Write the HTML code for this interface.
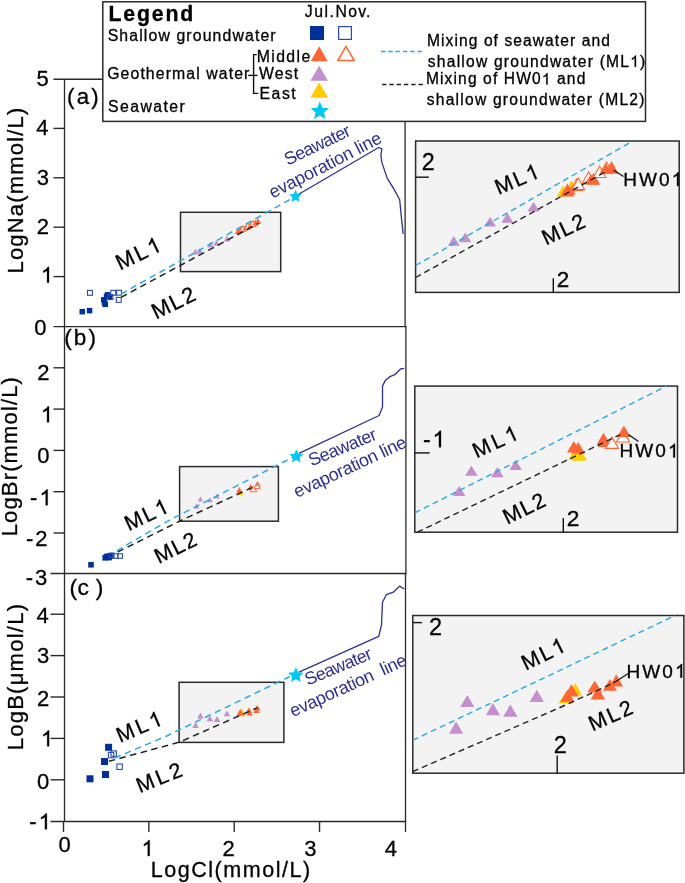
<!DOCTYPE html>
<html><head><meta charset="utf-8"><title>Figure</title>
<style>
html,body{margin:0;padding:0;background:#fff;}
body{width:685px;height:883px;overflow:hidden;}
svg{display:block;will-change:transform;}
text{font-family:"Liberation Sans", sans-serif;stroke-width:0.3px;}
</style></head>
<body>
<svg width="685" height="883" viewBox="0 0 685 883">
<rect x="0" y="0" width="685" height="883" fill="#fff"/>
<line x1="64.5" y1="79" x2="64.5" y2="821.5" stroke="#2a2a2a" stroke-width="1.3"/>
<line x1="405.1" y1="121" x2="405.1" y2="326.6" stroke="#2a2a2a" stroke-width="1.3"/>
<line x1="405.9" y1="326.6" x2="405.9" y2="573.5" stroke="#2a2a2a" stroke-width="1.3"/>
<line x1="405.5" y1="573.5" x2="405.5" y2="832" stroke="#2a2a2a" stroke-width="1.3"/>
<line x1="53.5" y1="79.2" x2="103" y2="79.2" stroke="#2a2a2a" stroke-width="1.4"/>
<line x1="53.5" y1="326.6" x2="406.5" y2="326.6" stroke="#2a2a2a" stroke-width="1.4"/>
<line x1="50.5" y1="573.5" x2="406.5" y2="573.5" stroke="#2a2a2a" stroke-width="1.4"/>
<line x1="50.5" y1="821.5" x2="406.2" y2="821.5" stroke="#2a2a2a" stroke-width="1.4"/>
<line x1="53.5" y1="276.6" x2="64" y2="276.6" stroke="#2a2a2a" stroke-width="1.4"/>
<line x1="53.5" y1="227.2" x2="64" y2="227.2" stroke="#2a2a2a" stroke-width="1.4"/>
<line x1="53.5" y1="177.8" x2="64" y2="177.8" stroke="#2a2a2a" stroke-width="1.4"/>
<line x1="53.5" y1="128.4" x2="64" y2="128.4" stroke="#2a2a2a" stroke-width="1.4"/>
<line x1="53.5" y1="367.79999999999995" x2="64" y2="367.79999999999995" stroke="#2a2a2a" stroke-width="1.4"/>
<line x1="53.5" y1="409.09999999999997" x2="64" y2="409.09999999999997" stroke="#2a2a2a" stroke-width="1.4"/>
<line x1="53.5" y1="450.4" x2="64" y2="450.4" stroke="#2a2a2a" stroke-width="1.4"/>
<line x1="53.5" y1="491.7" x2="64" y2="491.7" stroke="#2a2a2a" stroke-width="1.4"/>
<line x1="53.5" y1="533.0" x2="64" y2="533.0" stroke="#2a2a2a" stroke-width="1.4"/>
<line x1="50.5" y1="614.1999999999999" x2="64" y2="614.1999999999999" stroke="#2a2a2a" stroke-width="1.4"/>
<line x1="50.5" y1="655.5999999999999" x2="64" y2="655.5999999999999" stroke="#2a2a2a" stroke-width="1.4"/>
<line x1="50.5" y1="697.0" x2="64" y2="697.0" stroke="#2a2a2a" stroke-width="1.4"/>
<line x1="50.5" y1="738.4" x2="64" y2="738.4" stroke="#2a2a2a" stroke-width="1.4"/>
<line x1="50.5" y1="779.8" x2="64" y2="779.8" stroke="#2a2a2a" stroke-width="1.4"/>
<text x="36.43" y="86.1" font-size="22" stroke="#000">5</text>
<text x="36.29" y="135.4" font-size="22" stroke="#000">4</text>
<text x="36.82" y="185.3" font-size="22" stroke="#000">3</text>
<text x="36.76" y="234.1" font-size="22" stroke="#000">2</text>
<text id="one1" x="40.8" y="282.7" font-size="22" stroke="#000"><tspan visibility="hidden">1</tspan></text>
<text x="34.18" y="335.0" font-size="22" stroke="#000">0</text>
<text x="37.31" y="380.2" font-size="22" stroke="#000">2</text>
<text id="one2" x="40.8" y="422.3" font-size="22" stroke="#000"><tspan visibility="hidden">1</tspan></text>
<text x="37.23" y="463.4" font-size="22" stroke="#000">0</text>
<text id="one3" x="29.93" y="505.2" font-size="22" stroke="#000" textLength="21.79" lengthAdjust="spacing">-<tspan visibility="hidden">1</tspan></text>
<text x="26.03" y="545.5" font-size="22" stroke="#000" textLength="21.59" lengthAdjust="spacing">-2</text>
<text x="25.63" y="584.9" font-size="22" stroke="#000" textLength="21.56" lengthAdjust="spacing">-3</text>
<text x="36.44" y="622.6" font-size="22" stroke="#000">4</text>
<text x="36.97" y="663.4" font-size="22" stroke="#000">3</text>
<text x="36.91" y="705.6" font-size="22" stroke="#000">2</text>
<text id="one4" x="40.9" y="746.3" font-size="22" stroke="#000"><tspan visibility="hidden">1</tspan></text>
<text x="36.93" y="789.3" font-size="22" stroke="#000">0</text>
<text id="one5" x="29.33" y="829.2" font-size="22" stroke="#000" textLength="21.59" lengthAdjust="spacing">-<tspan visibility="hidden">1</tspan></text>
<text x="58.43" y="851.5" font-size="22" stroke="#000">0</text>
<text id="one6" x="141.5" y="856.0" font-size="22" stroke="#000"><tspan visibility="hidden">1</tspan></text>
<text x="222.46" y="856.1" font-size="22" stroke="#000">2</text>
<text x="304.17" y="855.7" font-size="22" stroke="#000">3</text>
<text x="384.64" y="855.7" font-size="22" stroke="#000">4</text>
<line x1="63.5" y1="821.5" x2="63.5" y2="832" stroke="#2a2a2a" stroke-width="1.4"/>
<line x1="148.85" y1="821.5" x2="148.85" y2="832" stroke="#2a2a2a" stroke-width="1.4"/>
<line x1="234.2" y1="821.5" x2="234.2" y2="832" stroke="#2a2a2a" stroke-width="1.4"/>
<line x1="319.54999999999995" y1="821.5" x2="319.54999999999995" y2="832" stroke="#2a2a2a" stroke-width="1.4"/>
<text x="150.64" y="876.8" font-size="21.5" stroke="#000" textLength="159.56" lengthAdjust="spacing">LogCl(mmol/L)</text>
<text x="0" y="0" font-size="22" textLength="165.74" lengthAdjust="spacing" fill="#000" stroke="#000" transform="translate(22.5 273.50) rotate(-90)">LogNa(mmol/L)</text>
<text x="0" y="0" font-size="22" textLength="159.23" lengthAdjust="spacing" fill="#000" stroke="#000" transform="translate(16.8 536.30) rotate(-90)">LogBr(mmol/L)</text>
<text x="0" y="0" font-size="22" textLength="146.33" lengthAdjust="spacing" fill="#000" stroke="#000" transform="translate(23 750.30) rotate(-90)">LogB(μmol/L)</text>
<text x="67.12" y="104.1" font-size="22.3" stroke="#000" textLength="31.51" lengthAdjust="spacing">(a)</text>
<text x="64.31" y="345.3" font-size="22.5" stroke="#000" textLength="31.64" lengthAdjust="spacing">(b)</text>
<text x="69.49" y="595.1" font-size="22.8" stroke="#000" textLength="33.91" lengthAdjust="spacing">(c )</text>
<rect x="102.8" y="1.8" width="542.7" height="119.6" fill="#fff" stroke="#2a2a2a" stroke-width="1.5"/>
<text x="108.49" y="20.8" font-size="21.3" font-weight="bold" stroke="#000" textLength="84.89" lengthAdjust="spacing">Legend</text>
<text x="107.67" y="41.0" font-size="15.8" stroke="#000" textLength="167.93" lengthAdjust="spacing">Shallow groundwater</text>
<text x="107.21" y="79.3" font-size="15.8" stroke="#000" textLength="142.1" lengthAdjust="spacing">Geothermal water</text>
<text x="108.07" y="112.2" font-size="15.8" stroke="#000" textLength="76.62" lengthAdjust="spacing">Seawater</text>
<text x="304.85" y="17.3" font-size="15.8" stroke="#000" textLength="29.04" lengthAdjust="spacing">Jul.</text>
<text x="335.5" y="17.3" font-size="15.8" stroke="#000" textLength="34.98" lengthAdjust="spacing">Nov.</text>
<text x="256.7" y="61.6" font-size="15.8" stroke="#000" textLength="53.52" lengthAdjust="spacing">Middle</text>
<text x="258.94" y="79.4" font-size="15.8" stroke="#000" textLength="39.32" lengthAdjust="spacing">West</text>
<text x="259.6" y="98.5" font-size="15.8" stroke="#000" textLength="36.04" lengthAdjust="spacing">East</text>
<polyline points="256.8,54.6 253.6,54.6 253.6,93.4 258.3,93.4" fill="none" stroke="#111" stroke-width="1.4"/>
<line x1="248.1" y1="75.4" x2="257.6" y2="75.4" stroke="#111" stroke-width="1.4"/>
<rect x="310.0" y="26.0" width="14.0" height="14.0" fill="#00309a"/>
<rect x="338.6" y="26.6" width="12.8" height="12.8" fill="none" stroke="#284bb0" stroke-width="1.2"/>
<polygon points="319.2,46.2 310.7,61.2 327.7,61.2" fill="#ff6633"/>
<polygon points="346.0,46.4 337.8,60.6 354.2,60.6" fill="none" stroke="#ff6633" stroke-width="1.5"/>
<polygon points="319.2,65.8 310.4,80.8 327.9,80.8" fill="#c48fcc"/>
<polygon points="319.2,82.6 310.2,97.8 328.2,97.8" fill="#ffcc00"/>
<polygon points="319.80,101.60 322.40,107.63 328.93,108.23 324.00,112.56 325.44,118.97 319.80,115.62 314.16,118.97 315.60,112.56 310.67,108.23 317.20,107.63" fill="#00c8f5"/>
<line x1="381" y1="51.6" x2="424" y2="51.6" stroke="#26a9e6" stroke-width="1.5" stroke-dasharray="4.4 2.9"/>
<line x1="382" y1="84.6" x2="425.5" y2="84.6" stroke="#222" stroke-width="1.5" stroke-dasharray="4.4 2.9"/>
<text x="427.02" y="45.6" font-size="15.6" stroke="#000" textLength="182.8" lengthAdjust="spacing">Mixing of seawater and</text>
<text id="one7" x="427.86" y="66.8" font-size="15.6" stroke="#000" textLength="217.45" lengthAdjust="spacing">shallow groundwater (ML<tspan visibility="hidden">1</tspan>)</text>
<text id="one8" x="425.92" y="84.4" font-size="15.6" stroke="#000" textLength="159.41" lengthAdjust="spacing">Mixing of HW0<tspan visibility="hidden">1</tspan> and</text>
<text x="426.76" y="105.3" font-size="15.6" stroke="#000" textLength="217.65" lengthAdjust="spacing">shallow groundwater (ML2)</text>
<rect x="180.5" y="212.3" width="100.19999999999999" height="59.30000000000001" fill="#f3f3f3" stroke="#2a2a2a" stroke-width="1.5"/>
<polyline points="297.0,195.2 378.7,147.5 381.8,148.9 380.9,154.9 381.8,162.4 387.4,178.6 393.7,188.6 399.7,199.8 401.1,214.8 403.2,234.0" fill="none" stroke="#2e3192" stroke-width="1.3" stroke-linejoin="round"/>
<rect x="79.5" y="308.9" width="5.5" height="5.5" fill="#00309a"/>
<rect x="86.8" y="307.9" width="5.5" height="5.5" fill="#00309a"/>
<rect x="101.8" y="300.1" width="5.5" height="5.5" fill="#00309a"/>
<rect x="101.0" y="297.1" width="5.5" height="5.5" fill="#00309a"/>
<rect x="104.7" y="292.1" width="5.5" height="5.5" fill="#00309a"/>
<rect x="106.8" y="294.2" width="5.5" height="5.5" fill="#00309a"/>
<rect x="102.5" y="301.6" width="5.5" height="5.5" fill="#00309a"/>
<rect x="103.8" y="293.8" width="5.5" height="5.5" fill="#00309a"/>
<rect x="87.5" y="290.4" width="4.9" height="4.9" fill="none" stroke="#284bb0" stroke-width="1.1"/>
<rect x="110.8" y="290.4" width="4.9" height="4.9" fill="none" stroke="#284bb0" stroke-width="1.1"/>
<rect x="116.6" y="290.2" width="4.9" height="4.9" fill="none" stroke="#284bb0" stroke-width="1.1"/>
<rect x="116.3" y="297.4" width="4.9" height="4.9" fill="none" stroke="#284bb0" stroke-width="1.1"/>
<rect x="108.0" y="294.6" width="4.9" height="4.9" fill="none" stroke="#284bb0" stroke-width="1.1"/>
<polygon points="195.4,248.8 192.2,254.6 198.7,254.6" fill="#c48fcc"/>
<polygon points="199.8,247.9 196.6,253.7 203.1,253.7" fill="#c48fcc"/>
<polygon points="210.3,241.8 207.1,247.6 213.6,247.6" fill="#c48fcc"/>
<polygon points="216.4,240.0 213.2,245.8 219.7,245.8" fill="#c48fcc"/>
<polygon points="226.9,235.6 223.7,241.4 230.2,241.4" fill="#c48fcc"/>
<polygon points="240.0,226.5 236.8,232.3 243.2,232.3" fill="#ffcc00"/>
<polygon points="238.0,228.1 234.8,233.9 241.2,233.9" fill="#ff6633"/>
<polygon points="240.5,227.1 237.2,232.9 243.8,232.9" fill="#ff6633"/>
<polygon points="243.0,225.6 239.8,231.4 246.2,231.4" fill="#fff" stroke="#ff6633" stroke-width="1.0"/>
<polygon points="245.5,224.6 242.2,230.4 248.8,230.4" fill="#ff6633"/>
<polygon points="248.0,223.1 244.8,228.9 251.2,228.9" fill="#fff" stroke="#ff6633" stroke-width="1.0"/>
<polygon points="250.5,222.1 247.2,227.9 253.8,227.9" fill="#ff6633"/>
<polygon points="253.0,220.6 249.8,226.4 256.2,226.4" fill="#fff" stroke="#ff6633" stroke-width="1.0"/>
<polygon points="255.5,219.6 252.2,225.4 258.8,225.4" fill="#ff6633"/>
<polygon points="258.0,218.1 254.8,223.9 261.2,223.9" fill="#ff6633"/>
<path d="M121,294 L295.5,196.4" fill="none" stroke="#26a9e6" stroke-width="1.5" stroke-dasharray="6.5 4.5"/>
<path d="M121,297.3 L258.5,223.4" fill="none" stroke="#222" stroke-width="1.5" stroke-dasharray="6.5 4.5"/>
<polygon points="295.50,189.70 297.34,193.97 301.97,194.40 298.47,197.47 299.50,202.00 295.50,199.63 291.50,202.00 292.53,197.47 289.03,194.40 293.66,193.97" fill="#00c8f5"/>
<text id="one9" x="0" y="0" font-size="22" textLength="47.33" lengthAdjust="spacing" fill="#000" stroke="#000" transform="translate(119.97 270.58) rotate(-25.5)">ML<tspan visibility="hidden">1</tspan></text>
<text x="0" y="0" font-size="22" textLength="45.93" lengthAdjust="spacing" fill="#000" stroke="#000" transform="translate(155.88 319.59) rotate(-26)">ML2</text>
<text x="0" y="0" font-size="18" textLength="71.16" lengthAdjust="spacing" fill="#2e3192" transform="translate(287.75 165.66) rotate(-25.5)">Seawater</text>
<text x="0" y="0" font-size="18" textLength="124.09" lengthAdjust="spacing" fill="#2e3192" transform="translate(272.83 198.85) rotate(-27.3)">evaporation line</text>
<rect x="415.6" y="141" width="263.6" height="151.39999999999998" fill="#f3f3f3" stroke="#2a2a2a" stroke-width="1.5"/>
<line x1="415.6" y1="177.2" x2="428.9" y2="177.2" stroke="#111" stroke-width="1.4"/>
<line x1="553.3" y1="292.4" x2="553.3" y2="278.3" stroke="#111" stroke-width="1.4"/>
<text x="421.64" y="169.8" font-size="23.3" stroke="#000">2</text>
<text x="556.78" y="286.6" font-size="22.5" stroke="#000">2</text>
<polygon points="453.8,236.1 447.8,245.8 459.8,245.8" fill="#c48fcc"/>
<polygon points="465.3,232.6 459.3,242.3 471.3,242.3" fill="#c48fcc"/>
<polygon points="490.1,216.9 484.1,226.6 496.1,226.6" fill="#c48fcc"/>
<polygon points="507.4,213.1 501.4,222.8 513.4,222.8" fill="#c48fcc"/>
<polygon points="533.5,201.9 527.5,211.6 539.5,211.6" fill="#c48fcc"/>
<polygon points="563.0,185.5 556.8,196.5 569.2,196.5" fill="#ffcc00"/>
<polygon points="571.4,180.2 565.1,191.2 577.6,191.2" fill="#ffcc00"/>
<polygon points="567.3,183.5 560.3,196.5 574.3,196.5" fill="#ff6633"/>
<polygon points="570.5,187.0 565.0,194.5 576.0,194.5" fill="#ff6633"/>
<polygon points="576.6,178.8 570.4,190.4 582.9,190.4" fill="#fff" stroke="#ff6633" stroke-width="1.1"/>
<polygon points="578.4,178.2 572.1,189.6 584.6,189.6" fill="#fff" stroke="#ff6633" stroke-width="1.1"/>
<polygon points="588.5,171.9 582.2,183.4 594.8,183.4" fill="#fff" stroke="#ff6633" stroke-width="1.1"/>
<polygon points="591.0,174.0 584.5,184.5 597.5,184.5" fill="#ff6633"/>
<polygon points="593.5,172.8 586.8,184.8 600.2,184.8" fill="#ff6633"/>
<polygon points="599.6,166.1 593.4,177.5 605.9,177.5" fill="#fff" stroke="#ff6633" stroke-width="1.1"/>
<polygon points="606.6,162.0 600.4,173.0 612.9,173.0" fill="#fff" stroke="#ff6633" stroke-width="1.1"/>
<polygon points="606.0,163.5 600.0,173.7 612.0,173.7" fill="#ff6633"/>
<polygon points="611.6,161.1 604.6,173.7 618.6,173.7" fill="#ff6633"/>
<path d="M415.6,265.5 L632.8,141" fill="none" stroke="#26a9e6" stroke-width="1.4" stroke-dasharray="6 4"/>
<path d="M415.6,277.5 L606.7,171.1" fill="none" stroke="#222" stroke-width="1.4" stroke-dasharray="6 4"/>
<line x1="613.4" y1="169.9" x2="623.5" y2="176.6" stroke="#111" stroke-width="1.2"/>
<text id="one10" x="623.24" y="186" font-size="19" stroke="#000" textLength="58.94" lengthAdjust="spacing">HW0<tspan visibility="hidden">1</tspan></text>
<text id="one11" x="0" y="0" font-size="21.5" textLength="45.70" lengthAdjust="spacing" fill="#000" stroke="#000" transform="translate(498.58 194.99) rotate(-23)">ML<tspan visibility="hidden">1</tspan></text>
<text x="0" y="0" font-size="21.5" textLength="44.87" lengthAdjust="spacing" fill="#000" stroke="#000" transform="translate(546.10 245.45) rotate(-25)">ML2</text>
<rect x="179.6" y="466.6" width="98.79999999999998" height="54.60000000000002" fill="#f3f3f3" stroke="#2a2a2a" stroke-width="1.5"/>
<polyline points="299.0,453.4 379.1,415.5 382.5,407.0 382.5,386.1 385.3,380.4 390.0,376.6 394.8,374.7 400.5,369.0 404.3,368.4" fill="none" stroke="#2e3192" stroke-width="1.3" stroke-linejoin="round"/>
<rect x="88.2" y="562.0" width="5.6" height="5.6" fill="#00309a"/>
<rect x="102.4" y="554.8" width="5.8" height="5.8" fill="#00309a"/>
<rect x="106.1" y="554.6" width="5.8" height="5.8" fill="#00309a"/>
<rect x="104.1" y="553.6" width="5.8" height="5.8" fill="#00309a"/>
<rect x="107.1" y="553.1" width="5.8" height="5.8" fill="#00309a"/>
<rect x="109.5" y="553.0" width="4.5" height="4.5" fill="none" stroke="#284bb0" stroke-width="1.1"/>
<rect x="113.2" y="553.8" width="4.5" height="4.5" fill="none" stroke="#284bb0" stroke-width="1.1"/>
<rect x="118.0" y="553.8" width="4.5" height="4.5" fill="none" stroke="#284bb0" stroke-width="1.1"/>
<polygon points="196.6,503.5 193.8,508.5 199.3,508.5" fill="#c48fcc"/>
<polygon points="200.4,496.5 197.7,501.5 203.2,501.5" fill="#c48fcc"/>
<polygon points="209.9,497.2 207.2,502.2 212.7,502.2" fill="#c48fcc"/>
<polygon points="217.1,493.4 214.3,498.4 219.8,498.4" fill="#c48fcc"/>
<polygon points="240.2,489.2 236.9,495.0 243.4,495.0" fill="#ffcc00"/>
<polygon points="239.3,487.0 236.1,492.8 242.6,492.8" fill="#ff6633"/>
<polygon points="250.7,484.1 247.4,489.9 253.9,489.9" fill="#ff6633"/>
<polygon points="253.5,486.0 250.2,491.8 256.8,491.8" fill="#fff" stroke="#ff6633" stroke-width="1.0"/>
<polygon points="257.7,481.3 254.4,487.1 260.9,487.1" fill="#ff6633"/>
<polygon points="257.0,482.6 253.8,488.4 260.2,488.4" fill="#fff" stroke="#ff6633" stroke-width="1.0"/>
<path d="M116.8,550.8 L145,534.2 L170,519.8 L294.5,456.5" fill="none" stroke="#26a9e6" stroke-width="1.5" stroke-dasharray="6.5 4.5"/>
<path d="M117.7,552.1 L179.5,521.2 L257.3,485.1" fill="none" stroke="#222" stroke-width="1.5" stroke-dasharray="6.5 4.5"/>
<polygon points="296.30,449.20 298.27,453.78 303.24,454.24 299.49,457.54 300.59,462.41 296.30,459.86 292.01,462.41 293.11,457.54 289.36,454.24 294.33,453.78" fill="#00c8f5"/>
<text id="one12" x="0" y="0" font-size="21.5" textLength="45.70" lengthAdjust="spacing" fill="#000" stroke="#000" transform="translate(128.71 531.36) rotate(-25.4)">ML<tspan visibility="hidden">1</tspan></text>
<text x="0" y="0" font-size="21.5" textLength="44.37" lengthAdjust="spacing" fill="#000" stroke="#000" transform="translate(158.72 564.09) rotate(-26.5)">ML2</text>
<text x="0" y="0" font-size="18" textLength="72.16" lengthAdjust="spacing" fill="#2e3192" transform="translate(311.44 466.62) rotate(-22.6)">Seawater</text>
<text x="0" y="0" font-size="18" textLength="122.09" lengthAdjust="spacing" fill="#2e3192" transform="translate(297.11 498.12) rotate(-25.0)">evaporation line</text>
<rect x="414.8" y="386.1" width="262.7" height="146.10000000000002" fill="#f3f3f3" stroke="#2a2a2a" stroke-width="1.5"/>
<line x1="414.8" y1="452.9" x2="429.7" y2="452.9" stroke="#111" stroke-width="1.4"/>
<line x1="563.3" y1="532.2" x2="563.3" y2="518" stroke="#111" stroke-width="1.4"/>
<text id="one13" x="422.89" y="447.3" font-size="23" stroke="#000" textLength="22.32" lengthAdjust="spacing">-<tspan visibility="hidden">1</tspan></text>
<text x="566.86" y="525.5" font-size="22.8" stroke="#000">2</text>
<polygon points="459.2,485.7 452.9,496.1 465.4,496.1" fill="#c48fcc"/>
<polygon points="471.4,465.4 465.1,475.8 477.6,475.8" fill="#c48fcc"/>
<polygon points="497.4,466.9 491.1,477.3 503.6,477.3" fill="#c48fcc"/>
<polygon points="515.6,459.7 509.4,470.1 521.9,470.1" fill="#c48fcc"/>
<polygon points="575.5,447.5 568.5,459.5 582.5,459.5" fill="#ffcc00"/>
<polygon points="580.0,448.5 573.0,460.5 587.0,460.5" fill="#ffcc00"/>
<polygon points="577.5,450.0 570.8,460.5 584.2,460.5" fill="#ffcc00"/>
<polygon points="573.7,441.0 567.0,452.5 580.5,452.5" fill="#ff6633"/>
<polygon points="578.2,441.9 571.5,453.4 585.0,453.4" fill="#ff6633"/>
<polygon points="603.5,432.8 596.8,444.3 610.2,444.3" fill="#ff6633"/>
<polygon points="604.5,435.5 597.8,447.0 611.2,447.0" fill="#ff6633"/>
<polygon points="612.0,437.3 605.5,448.3 618.5,448.3" fill="#fff" stroke="#ff6633" stroke-width="1.2"/>
<polygon points="623.0,431.0 616.5,442.0 629.5,442.0" fill="#fff" stroke="#ff6633" stroke-width="1.2"/>
<polygon points="623.9,425.5 617.1,437.0 630.6,437.0" fill="#ff6633"/>
<path d="M414.8,512.8 L666.6,386.1" fill="none" stroke="#26a9e6" stroke-width="1.4" stroke-dasharray="6 4"/>
<path d="M417.3,532.2 L620.2,434.6" fill="none" stroke="#222" stroke-width="1.4" stroke-dasharray="6 4"/>
<line x1="628.4" y1="434.6" x2="638.5" y2="441.5" stroke="#111" stroke-width="1.2"/>
<text id="one14" x="619.54" y="457.4" font-size="19" stroke="#000" textLength="58.93" lengthAdjust="spacing">HW0<tspan visibility="hidden">1</tspan></text>
<text id="one15" x="0" y="0" font-size="21.5" textLength="47.70" lengthAdjust="spacing" fill="#000" stroke="#000" transform="translate(476.40 458.43) rotate(-24.5)">ML<tspan visibility="hidden">1</tspan></text>
<text x="0" y="0" font-size="21.5" textLength="44.37" lengthAdjust="spacing" fill="#000" stroke="#000" transform="translate(507.32 524.78) rotate(-26.1)">ML2</text>
<rect x="179.1" y="682.3" width="104.79999999999998" height="60.10000000000002" fill="#f3f3f3" stroke="#2a2a2a" stroke-width="1.5"/>
<polyline points="299.0,672.2 378.7,636.4 381.5,625.0 382.5,602.3 386.3,594.7 389.1,593.7 393.9,591.8 399.6,586.1 404.3,589.0" fill="none" stroke="#2e3192" stroke-width="1.3" stroke-linejoin="round"/>
<rect x="86.5" y="775.3" width="7.0" height="7.0" fill="#00309a"/>
<rect x="102.0" y="771.0" width="7.0" height="7.0" fill="#00309a"/>
<rect x="101.0" y="758.0" width="7.0" height="7.0" fill="#00309a"/>
<rect x="105.1" y="743.8" width="7.0" height="7.0" fill="#00309a"/>
<rect x="108.4" y="752.4" width="5.4" height="5.4" fill="none" stroke="#284bb0" stroke-width="1.1"/>
<rect x="111.0" y="750.9" width="5.4" height="5.4" fill="none" stroke="#284bb0" stroke-width="1.1"/>
<rect x="116.9" y="764.0" width="5.4" height="5.4" fill="none" stroke="#284bb0" stroke-width="1.1"/>
<polygon points="195.6,722.1 192.3,727.9 198.8,727.9" fill="#c48fcc"/>
<polygon points="200.4,712.6 197.2,718.4 203.7,718.4" fill="#c48fcc"/>
<polygon points="209.9,715.5 206.7,721.3 213.2,721.3" fill="#c48fcc"/>
<polygon points="217.1,716.1 213.8,721.9 220.3,721.9" fill="#c48fcc"/>
<polygon points="226.9,710.4 223.7,716.2 230.2,716.2" fill="#c48fcc"/>
<polygon points="241.5,708.3 237.2,716.3 245.8,716.3" fill="#ffcc00"/>
<polygon points="240.2,709.0 236.6,715.6 243.8,715.6" fill="#ff6633"/>
<polygon points="248.9,707.3 245.7,713.1 252.2,713.1" fill="#ff6633"/>
<polygon points="249.7,709.6 246.4,715.4 252.9,715.4" fill="#ff6633"/>
<polygon points="257.3,704.7 254.1,710.5 260.6,710.5" fill="#ff6633"/>
<polygon points="256.5,707.1 253.2,712.9 259.8,712.9" fill="#ff6633"/>
<path d="M114.7,758 L167.3,735.7 L291.5,675.7" fill="none" stroke="#26a9e6" stroke-width="1.5" stroke-dasharray="6.5 4.5"/>
<path d="M108.8,761.3 L179.3,742.2 L257.3,707.8" fill="none" stroke="#222" stroke-width="1.5" stroke-dasharray="6.5 4.5"/>
<polygon points="295.90,667.10 298.14,672.31 303.79,672.84 299.53,676.58 300.78,682.11 295.90,679.22 291.02,682.11 292.27,676.58 288.01,672.84 293.66,672.31" fill="#00c8f5"/>
<text id="one16" x="0" y="0" font-size="21.5" textLength="47.70" lengthAdjust="spacing" fill="#000" stroke="#000" transform="translate(119.88 742.99) rotate(-23)">ML<tspan visibility="hidden">1</tspan></text>
<text x="0" y="0" font-size="21.5" textLength="47.37" lengthAdjust="spacing" fill="#000" stroke="#000" transform="translate(139.87 793.16) rotate(-22)">ML2</text>
<text x="0" y="0" font-size="18" textLength="71.16" lengthAdjust="spacing" fill="#2e3192" transform="translate(307.74 685.82) rotate(-22.8)">Seawater</text>
<text x="0" y="0" font-size="18" textLength="126.59" lengthAdjust="spacing" fill="#2e3192" transform="translate(293.11 717.32) rotate(-24.7)">evaporation  line</text>
<rect x="412.8" y="615.5" width="271.09999999999997" height="157.70000000000005" fill="#f3f3f3" stroke="#2a2a2a" stroke-width="1.5"/>
<line x1="412.8" y1="622.6" x2="422" y2="622.6" stroke="#111" stroke-width="1.4"/>
<line x1="557.2" y1="773.2" x2="557.2" y2="755.5" stroke="#111" stroke-width="1.4"/>
<text x="429.12" y="635.2" font-size="23.5" stroke="#000">2</text>
<text x="553.83" y="753.0" font-size="23.5" stroke="#000">2</text>
<polygon points="467.3,694.9 460.2,707.1 474.4,707.1" fill="#c48fcc"/>
<polygon points="456.1,721.5 449.0,733.7 463.2,733.7" fill="#c48fcc"/>
<polygon points="492.9,703.1 485.8,715.3 500.0,715.3" fill="#c48fcc"/>
<polygon points="510.3,704.5 503.2,716.7 517.5,716.7" fill="#c48fcc"/>
<polygon points="536.8,689.8 529.6,702.0 543.9,702.0" fill="#c48fcc"/>
<polygon points="575.4,683.1 568.9,695.4 581.9,695.4" fill="#ffcc00"/>
<polygon points="566.1,691.5 558.5,703.5 573.7,703.5" fill="#ffcc00"/>
<polygon points="567.3,690.0 560.3,701.8 574.3,701.8" fill="#ff6633"/>
<polygon points="571.4,684.3 564.1,696.5 578.7,696.5" fill="#ff6633"/>
<polygon points="594.7,680.8 587.2,692.4 602.2,692.4" fill="#ff6633"/>
<polygon points="597.9,687.5 590.6,699.5 605.2,699.5" fill="#ff6633"/>
<polygon points="609.9,679.0 602.9,690.7 616.9,690.7" fill="#ff6633"/>
<polygon points="616.3,674.3 609.6,686.6 623.0,686.6" fill="#ff6633"/>
<path d="M412.8,740.3 L675.1,615.5" fill="none" stroke="#26a9e6" stroke-width="1.4" stroke-dasharray="6 4"/>
<path d="M412.8,771.6 L558.5,708.2 L613.4,683.1" fill="none" stroke="#222" stroke-width="1.4" stroke-dasharray="6 4"/>
<line x1="613.4" y1="683.1" x2="629.5" y2="672.8" stroke="#111" stroke-width="1.2"/>
<text id="one17" x="626.54" y="677.7" font-size="19" stroke="#000" textLength="59.03" lengthAdjust="spacing">HW0<tspan visibility="hidden">1</tspan></text>
<text id="one18" x="0" y="0" font-size="21.5" textLength="45.70" lengthAdjust="spacing" fill="#000" stroke="#000" transform="translate(525.82 670.67) rotate(-26)">ML<tspan visibility="hidden">1</tspan></text>
<text x="0" y="0" font-size="21.5" textLength="45.87" lengthAdjust="spacing" fill="#000" stroke="#000" transform="translate(592.49 731.62) rotate(-24.1)">ML2</text>
<path d="M763 0L583 0L583 1147Q518 1085 412.5 1023Q307 961 223 930L223 1104Q374 1175 487 1276Q600 1377 647 1472L763 1472Z" fill="#000" stroke="#000" stroke-width="0.3" vector-effect="non-scaling-stroke" transform=" translate(40.80 282.70) scale(0.01074 -0.01074)"/>
<path d="M763 0L583 0L583 1147Q518 1085 412.5 1023Q307 961 223 930L223 1104Q374 1175 487 1276Q600 1377 647 1472L763 1472Z" fill="#000" stroke="#000" stroke-width="0.3" vector-effect="non-scaling-stroke" transform=" translate(40.80 422.30) scale(0.01074 -0.01074)"/>
<path d="M763 0L583 0L583 1147Q518 1085 412.5 1023Q307 961 223 930L223 1104Q374 1175 487 1276Q600 1377 647 1472L763 1472Z" fill="#000" stroke="#000" stroke-width="0.3" vector-effect="non-scaling-stroke" transform=" translate(39.47 505.20) scale(0.01074 -0.01074)"/>
<path d="M763 0L583 0L583 1147Q518 1085 412.5 1023Q307 961 223 930L223 1104Q374 1175 487 1276Q600 1377 647 1472L763 1472Z" fill="#000" stroke="#000" stroke-width="0.3" vector-effect="non-scaling-stroke" transform=" translate(40.90 746.30) scale(0.01074 -0.01074)"/>
<path d="M763 0L583 0L583 1147Q518 1085 412.5 1023Q307 961 223 930L223 1104Q374 1175 487 1276Q600 1377 647 1472L763 1472Z" fill="#000" stroke="#000" stroke-width="0.3" vector-effect="non-scaling-stroke" transform=" translate(38.67 829.20) scale(0.01074 -0.01074)"/>
<path d="M763 0L583 0L583 1147Q518 1085 412.5 1023Q307 961 223 930L223 1104Q374 1175 487 1276Q600 1377 647 1472L763 1472Z" fill="#000" stroke="#000" stroke-width="0.3" vector-effect="non-scaling-stroke" transform=" translate(141.50 856.00) scale(0.01074 -0.01074)"/>
<path d="M763 0L583 0L583 1147Q518 1085 412.5 1023Q307 961 223 930L223 1104Q374 1175 487 1276Q600 1377 647 1472L763 1472Z" fill="#000" stroke="#000" stroke-width="0.3" vector-effect="non-scaling-stroke" transform=" translate(630.21 66.80) scale(0.00762 -0.00762)"/>
<path d="M763 0L583 0L583 1147Q518 1085 412.5 1023Q307 961 223 930L223 1104Q374 1175 487 1276Q600 1377 647 1472L763 1472Z" fill="#000" stroke="#000" stroke-width="0.3" vector-effect="non-scaling-stroke" transform=" translate(541.81 84.40) scale(0.00762 -0.00762)"/>
<path d="M763 0L583 0L583 1147Q518 1085 412.5 1023Q307 961 223 930L223 1104Q374 1175 487 1276Q600 1377 647 1472L763 1472Z" fill="#000" stroke="#000" stroke-width="0.3" vector-effect="non-scaling-stroke" transform="translate(119.97 270.58) rotate(-25.5) translate(35.08 0.00) scale(0.01074 -0.01074)"/>
<path d="M763 0L583 0L583 1147Q518 1085 412.5 1023Q307 961 223 930L223 1104Q374 1175 487 1276Q600 1377 647 1472L763 1472Z" fill="#000" stroke="#000" stroke-width="0.3" vector-effect="non-scaling-stroke" transform=" translate(671.60 186.00) scale(0.00928 -0.00928)"/>
<path d="M763 0L583 0L583 1147Q518 1085 412.5 1023Q307 961 223 930L223 1104Q374 1175 487 1276Q600 1377 647 1472L763 1472Z" fill="#000" stroke="#000" stroke-width="0.3" vector-effect="non-scaling-stroke" transform="translate(498.58 194.99) rotate(-23) translate(33.73 0.00) scale(0.01050 -0.01050)"/>
<path d="M763 0L583 0L583 1147Q518 1085 412.5 1023Q307 961 223 930L223 1104Q374 1175 487 1276Q600 1377 647 1472L763 1472Z" fill="#000" stroke="#000" stroke-width="0.3" vector-effect="non-scaling-stroke" transform="translate(128.71 531.36) rotate(-25.4) translate(33.73 0.00) scale(0.01050 -0.01050)"/>
<path d="M763 0L583 0L583 1147Q518 1085 412.5 1023Q307 961 223 930L223 1104Q374 1175 487 1276Q600 1377 647 1472L763 1472Z" fill="#000" stroke="#000" stroke-width="0.3" vector-effect="non-scaling-stroke" transform=" translate(432.41 447.30) scale(0.01123 -0.01123)"/>
<path d="M763 0L583 0L583 1147Q518 1085 412.5 1023Q307 961 223 930L223 1104Q374 1175 487 1276Q600 1377 647 1472L763 1472Z" fill="#000" stroke="#000" stroke-width="0.3" vector-effect="non-scaling-stroke" transform=" translate(667.89 457.40) scale(0.00928 -0.00928)"/>
<path d="M763 0L583 0L583 1147Q518 1085 412.5 1023Q307 961 223 930L223 1104Q374 1175 487 1276Q600 1377 647 1472L763 1472Z" fill="#000" stroke="#000" stroke-width="0.3" vector-effect="non-scaling-stroke" transform="translate(476.40 458.43) rotate(-24.5) translate(35.73 0.00) scale(0.01050 -0.01050)"/>
<path d="M763 0L583 0L583 1147Q518 1085 412.5 1023Q307 961 223 930L223 1104Q374 1175 487 1276Q600 1377 647 1472L763 1472Z" fill="#000" stroke="#000" stroke-width="0.3" vector-effect="non-scaling-stroke" transform="translate(119.88 742.99) rotate(-23) translate(35.73 0.00) scale(0.01050 -0.01050)"/>
<path d="M763 0L583 0L583 1147Q518 1085 412.5 1023Q307 961 223 930L223 1104Q374 1175 487 1276Q600 1377 647 1472L763 1472Z" fill="#000" stroke="#000" stroke-width="0.3" vector-effect="non-scaling-stroke" transform=" translate(674.99 677.70) scale(0.00928 -0.00928)"/>
<path d="M763 0L583 0L583 1147Q518 1085 412.5 1023Q307 961 223 930L223 1104Q374 1175 487 1276Q600 1377 647 1472L763 1472Z" fill="#000" stroke="#000" stroke-width="0.3" vector-effect="non-scaling-stroke" transform="translate(525.82 670.67) rotate(-26) translate(33.73 0.00) scale(0.01050 -0.01050)"/>
</svg>
</body></html>
